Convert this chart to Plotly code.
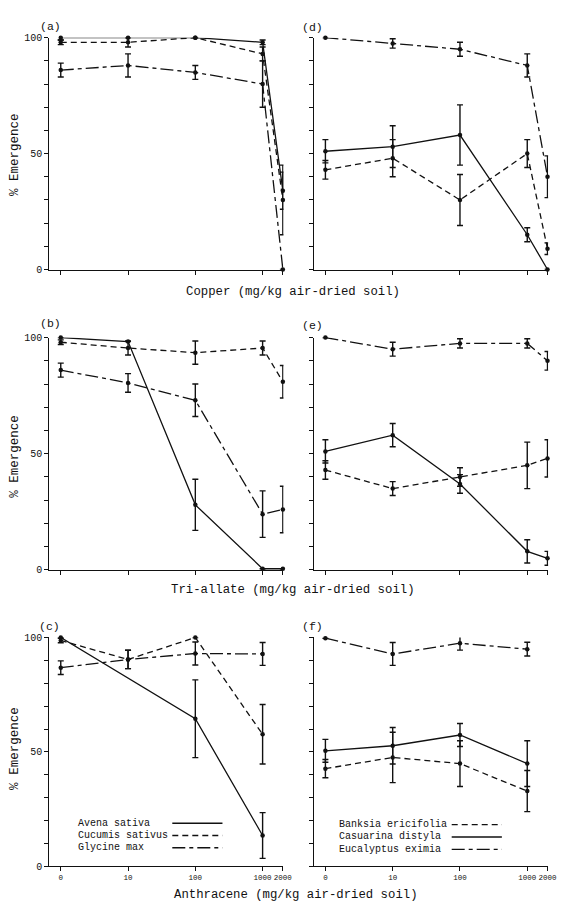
import plotly.graph_objects as go

# ---------------- data ----------------
doses = [0, 10, 100, 1000, 2000]
doses_an = [0, 10, 100, 1000]
dose_ticks = [0, 10, 100, 1000, 2000]
dose_labels = ["0", "10", "100", "1000", "2000"]
y_ticks = [0, 10, 20, 30, 40, 50, 60, 70, 80, 90, 100]
y_labels = ["0", "", "", "", "", "50", "", "", "", "", "100"]

# (a) Copper - crop species
cu_avena = [100, 100, 100, 98, 34]
cu_avena_err = [1, 0, 0, 1, 8]
cu_cucumis = [98, 98, 100, 93, 30]
cu_cucumis_err = [1, 2, 0, 3, 15]
cu_glycine = [86, 88, 85, 80, 0]
cu_glycine_err = [3, 5, 3, 10, 0]

# (d) Copper - native species
cu_banksia = [43, 48, 30, 50, 9]
cu_banksia_err = [4, 8, 11, 6, 2.5]
cu_casuarina = [51, 53, 58, 15, 0]
cu_casuarina_err = [5, 9, 13, 3, 0]
cu_eucalyptus = [100, 97.5, 95, 88, 40]
cu_eucalyptus_err = [0, 2, 3, 5, 9]

# (b) Tri-allate - crop species
tri_avena = [100, 98.3, 28, 0.5, 0.5]
tri_avena_err = [0, 0, 11, 0, 0]
tri_cucumis = [98, 95.5, 93.5, 95.5, 81]
tri_cucumis_err = [1, 3, 5, 3, 7]
tri_glycine = [86, 80.5, 73, 24, 26]
tri_glycine_err = [3, 4, 7, 10, 10]

# (e) Tri-allate - native species
tri_banksia = [43, 35, 40, 45, 48]
tri_banksia_err = [4, 3, 4, 10, 8]
tri_casuarina = [51, 58, 37, 8, 5]
tri_casuarina_err = [5, 5, 4, 5, 3]
tri_eucalyptus = [100, 95, 97.5, 97.5, 90]
tri_eucalyptus_err = [0, 3, 2, 2, 4]

# (c) Anthracene - crop species
an_avena = [100, None, 64.5, 13.5]
an_avena_err = [0, 0, 17, 10]
an_cucumis = [98.7, 90.4, 100, 57.7]
an_cucumis_err = [1, 4, 0, 13]
an_glycine = [86.8, 90.4, 93, 92.8]
an_glycine_err = [3, 4, 5, 5]

# (f) Anthracene - native species
an_banksia = [42.7, 47.6, 44.9, 32.9]
an_banksia_err = [4, 11, 10, 9]
an_casuarina = [50.5, 52.7, 57.4, 44.9]
an_casuarina_err = [5, 8, 5, 10]
an_eucalyptus = [99.7, 92.8, 97.5, 94.9]
an_eucalyptus_err = [0, 5, 3, 3]

crop_names = ["Avena sativa", "Cucumis sativus", "Glycine max"]
native_names = ["Banksia ericifolia", "Casuarina distyla", "Eucalyptus eximia"]
panel_letters = ["(a)", "(d)", "(b)", "(e)", "(c)", "(f)"]
x_titles = ["Copper (mg/kg air-dried soil)", "Tri-allate (mg/kg air-dried soil)",
            "Anthracene (mg/kg air-dried soil)"]

# ---------------- styles ----------------
FONT = "Liberation Mono, Courier New, monospace"
INK = "#111111"
SOLID = "solid"
DASHED = "6px,4px"
DASHDOT = "13px,4px,4px,4px"

# figure fits inside the window with the page's 8px body margin
OFF = 8
W, H = 572 - 2 * OFF, 909 - 2 * OFF

def px(v):
    return (v - OFF) / W

def py(v):
    return 1 - (v - OFF) / H

def xpos(ds):
    # zero dose plotted at the origin of the log axis
    return [d if d > 0 else 1 for d in ds]

fig = go.Figure()

def add_series(ax, ds, ys, errs, dash):
    fig.add_trace(go.Scatter(
        x=xpos(ds), y=ys, mode="lines+markers", connectgaps=True,
        line=dict(color=INK, width=1.3, dash=dash),
        marker=dict(color=INK, size=4.5),
        error_y=dict(type="data", array=errs, visible=True, color=INK,
                     thickness=1.4, width=3),
        xaxis="x" + ax, yaxis="y" + ax, cliponaxis=False, showlegend=False))

panels = [
    ("", doses, [(cu_avena, cu_avena_err, SOLID), (cu_cucumis, cu_cucumis_err, DASHED),
                 (cu_glycine, cu_glycine_err, DASHDOT)]),
    ("2", doses, [(cu_banksia, cu_banksia_err, DASHED), (cu_casuarina, cu_casuarina_err, SOLID),
                  (cu_eucalyptus, cu_eucalyptus_err, DASHDOT)]),
    ("3", doses, [(tri_avena, tri_avena_err, SOLID), (tri_cucumis, tri_cucumis_err, DASHED),
                  (tri_glycine, tri_glycine_err, DASHDOT)]),
    ("4", doses, [(tri_banksia, tri_banksia_err, DASHED), (tri_casuarina, tri_casuarina_err, SOLID),
                  (tri_eucalyptus, tri_eucalyptus_err, DASHDOT)]),
    ("5", doses_an, [(an_avena, an_avena_err, SOLID), (an_cucumis, an_cucumis_err, DASHED),
                     (an_glycine, an_glycine_err, DASHDOT)]),
    ("6", doses_an, [(an_banksia, an_banksia_err, DASHED), (an_casuarina, an_casuarina_err, SOLID),
                     (an_eucalyptus, an_eucalyptus_err, DASHDOT)]),
]
for ax, ds, series in panels:
    for ys, errs, dash in series:
        add_series(ax, ds, ys, errs, dash)

# ---------------- layout ----------------
xdom = {0: [px(50), px(288)], 1: [px(319), px(557)]}
ydom = {0: [py(268), py(33)],
        1: [py(572.5), py(337)],
        2: [py(873), py(641)]}

layout = dict(width=W, height=H, margin=dict(l=0, r=0, t=0, b=0),
              paper_bgcolor="white", plot_bgcolor="white",
              font=dict(family=FONT, color=INK), showlegend=False)

for i in range(6):
    row, col = i // 2, i % 2
    sfx = "" if i == 0 else str(i + 1)
    layout["xaxis" + sfx] = dict(
        type="log", range=[-0.17, 3.31], domain=xdom[col],
        anchor="y" + sfx, tickvals=xpos(dose_ticks), ticktext=dose_labels,
        showticklabels=(row == 2), tickangle=0, ticks="outside", ticklen=4,
        tickwidth=1, tickcolor=INK, showline=True, linecolor=INK, linewidth=1.2,
        showgrid=False, zeroline=False, tickfont=dict(size=7.5, family=FONT))
    layout["yaxis" + sfx] = dict(
        range=[0, 100], domain=ydom[row], anchor="x" + sfx,
        tickvals=y_ticks, ticktext=y_labels, showticklabels=(col == 0),
        ticks="outside", ticklen=4, tickwidth=1, tickcolor=INK,
        showline=True, linecolor=INK, linewidth=1.2, showgrid=False,
        zeroline=False, tickfont=dict(size=10, family=FONT))

ann = []

def note(text, x, y, size, xanchor="center", angle=0):
    ann.append(dict(text=text, x=px(x), y=py(y), xref="paper", yref="paper",
                    xanchor=xanchor, yanchor="middle", showarrow=False,
                    textangle=angle, font=dict(size=size, family=FONT, color=INK)))

letter_pos = [(51, 22), (318, 23), (51, 323), (318, 325), (50, 630), (318, 630)]
for (lx, ly), t in zip(letter_pos, panel_letters):
    note(t, lx, ly, 11.5)
for ty in (151, 457, 753):
    note("% Emergence", 15, ty, 12.5, angle=-90)
for (tx, ty), t in zip([(298, 291), (298, 593), (301, 902)], x_titles):
    note(t, tx, ty, 12.3)

shapes = []
leg_dash_crop = [SOLID, DASHED, DASHDOT]
leg_dash_native = [DASHED, SOLID, DASHDOT]
for k in range(3):
    yl = 829.3 + 12.4 * k
    note(crop_names[k], 77, yl, 10, xanchor="left")
    shapes.append(dict(type="line", xref="paper", yref="paper",
                       x0=px(175), x1=px(226), y0=py(yl), y1=py(yl),
                       line=dict(color=INK, width=1.3, dash=leg_dash_crop[k])))
    yr = 830.7 + 12.5 * k
    note(native_names[k], 342, yr, 10, xanchor="left")
    shapes.append(dict(type="line", xref="paper", yref="paper",
                       x0=px(459), x1=px(510), y0=py(yr), y1=py(yr),
                       line=dict(color=INK, width=1.3, dash=leg_dash_native[k])))

layout["annotations"] = ann
layout["shapes"] = shapes
fig.update_layout(**layout)
fig.write_html("out.html")
